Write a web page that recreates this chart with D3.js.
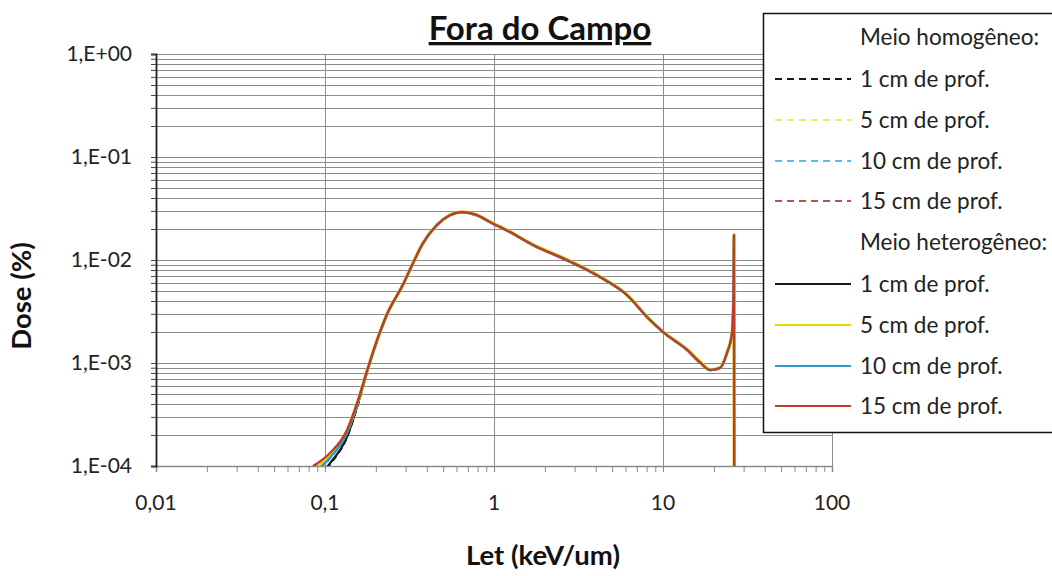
<!DOCTYPE html>
<html>
<head>
<meta charset="utf-8">
<script src="https://cdn.jsdelivr.net/npm/d3@7"></script>
<style>
  html, body { margin: 0; padding: 0; background: #fff; }
  svg { display: block; font-family: Lato, "Open Sans", sans-serif; }
</style>
</head>
<body>
<svg id="chart" width="1052" height="576"></svg>
<script>
// LET values (keV/um) shared by every curve
const letValues = [0.0849, 0.107, 0.135, 0.157, 0.177, 0.203, 0.233, 0.289, 0.332, 0.38,
  0.46, 0.55, 0.647, 0.792, 0.946, 1.244, 1.7, 2.7, 4.24, 6.12,
  8.04, 10.0, 13.9, 16.6, 19.0, 21.7, 23.9, 25.6, 26.1, 26.3, 26.4];

// Dose (%) — homogeneous medium
const homo1cm = [6.8e-5, 1.04e-4, 1.9e-4, 4.0e-4, 8.0e-4, 1.62e-3, 2.95e-3, 5.75e-3, 9.3e-3, 1.45e-2,
  2.18e-2, 2.72e-2, 2.91e-2, 2.72e-2, 2.33e-2, 1.86e-2, 1.39e-2, 9.95e-3, 6.8e-3, 4.55e-3,
  2.79e-3, 1.99e-3, 1.33e-3, 1.0e-3, 8.5e-4, 8.9e-4, 1.24e-3, 1.94e-3, 3.9e-3, 1.74e-2, 1.0e-5];
const homo5cm = [8.8e-5, 1.26e-4, 2.16e-4, 4.3e-4, 8.25e-4, 1.65e-3, 2.98e-3, 5.75e-3, 9.35e-3, 1.46e-2,
  2.19e-2, 2.73e-2, 2.92e-2, 2.73e-2, 2.34e-2, 1.87e-2, 1.4e-2, 1.0e-2, 6.84e-3, 4.57e-3,
  2.8e-3, 2.0e-3, 1.34e-3, 1.01e-3, 8.55e-4, 8.95e-4, 1.25e-3, 1.95e-3, 4.0e-3, 1.75e-2, 1.0e-5];
const homo10cm = [8.0e-5, 1.18e-4, 2.05e-4, 4.2e-4, 8.15e-4, 1.64e-3, 2.97e-3, 5.73e-3, 9.3e-3, 1.45e-2,
  2.18e-2, 2.73e-2, 2.91e-2, 2.72e-2, 2.33e-2, 1.87e-2, 1.4e-2, 9.95e-3, 6.8e-3, 4.55e-3,
  2.79e-3, 1.99e-3, 1.33e-3, 1.0e-3, 8.5e-4, 8.9e-4, 1.24e-3, 1.94e-3, 3.9e-3, 1.74e-2, 1.0e-5];
const homo15cm = [9.6e-5, 1.32e-4, 2.22e-4, 4.36e-4, 8.35e-4, 1.66e-3, 2.99e-3, 5.76e-3, 9.35e-3, 1.46e-2,
  2.19e-2, 2.74e-2, 2.92e-2, 2.73e-2, 2.35e-2, 1.88e-2, 1.41e-2, 1.01e-2, 6.9e-3, 4.6e-3,
  2.82e-3, 2.01e-3, 1.35e-3, 1.02e-3, 8.6e-4, 9.0e-4, 1.26e-3, 1.96e-3, 4.0e-3, 1.75e-2, 1.0e-5];

// Dose (%) — heterogeneous medium
const hetero1cm = [7.0e-5, 1.06e-4, 1.92e-4, 4.05e-4, 8.05e-4, 1.63e-3, 2.95e-3, 5.73e-3, 9.3e-3, 1.45e-2,
  2.18e-2, 2.72e-2, 2.9e-2, 2.71e-2, 2.32e-2, 1.86e-2, 1.39e-2, 9.9e-3, 6.8e-3, 4.55e-3,
  2.79e-3, 1.99e-3, 1.33e-3, 1.0e-3, 8.5e-4, 8.9e-4, 1.24e-3, 1.94e-3, 3.9e-3, 1.74e-2, 1.0e-5];
const hetero5cm = [9.0e-5, 1.28e-4, 2.18e-4, 4.32e-4, 8.3e-4, 1.66e-3, 2.99e-3, 5.76e-3, 9.38e-3, 1.46e-2,
  2.2e-2, 2.74e-2, 2.93e-2, 2.74e-2, 2.35e-2, 1.88e-2, 1.41e-2, 1.01e-2, 6.88e-3, 4.6e-3,
  2.82e-3, 2.01e-3, 1.35e-3, 1.02e-3, 8.6e-4, 9.0e-4, 1.26e-3, 1.96e-3, 4.0e-3, 1.75e-2, 1.0e-5];
const hetero10cm = [8.4e-5, 1.2e-4, 2.1e-4, 4.25e-4, 8.2e-4, 1.65e-3, 2.98e-3, 5.74e-3, 9.33e-3, 1.46e-2,
  2.19e-2, 2.73e-2, 2.92e-2, 2.73e-2, 2.34e-2, 1.87e-2, 1.4e-2, 1.0e-2, 6.84e-3, 4.57e-3,
  2.8e-3, 2.0e-3, 1.34e-3, 1.01e-3, 8.55e-4, 8.95e-4, 1.25e-3, 1.95e-3, 4.0e-3, 1.75e-2, 1.0e-5];
const hetero15cm = [1.0e-4, 1.34e-4, 2.24e-4, 4.38e-4, 8.35e-4, 1.66e-3, 2.99e-3, 5.75e-3, 9.35e-3, 1.46e-2,
  2.19e-2, 2.73e-2, 2.92e-2, 2.73e-2, 2.34e-2, 1.87e-2, 1.4e-2, 1.0e-2, 6.84e-3, 4.57e-3,
  2.8e-3, 2.0e-3, 1.34e-3, 1.01e-3, 8.55e-4, 8.95e-4, 1.25e-3, 1.95e-3, 4.0e-3, 1.75e-2, 1.0e-5];

// Axis tick labels
const xTickLabels = ["0,01", "0,1", "1", "10", "100"];
const yTickLabels = ["1,E-04", "1,E-03", "1,E-02", "1,E-01", "1,E+00"];

// Series shown in the legend, in draw order
const legendNames = ["1 cm de prof.", "5 cm de prof.", "10 cm de prof.", "15 cm de prof."];
const homoSeries = [homo1cm, homo5cm, homo10cm, homo15cm];
const heteroSeries = [hetero1cm, hetero5cm, hetero10cm, hetero15cm];
const homoColors = ["#1a1a1a", "#eeee55", "#5bbbe0", "#c0504d"];
const heteroColors = ["#1a1a1a", "#e8d800", "#2e9cc6", "#c23a2a"];
const heteroWidths = [2.2, 3.4, 2.4, 2.2];

const svg = d3.select("#chart");
const plotLeft = 156, plotRight = 832, plotTop = 54, plotBottom = 466;

const x = d3.scaleLog().domain([0.01, 100]).range([plotLeft, plotRight]);
const y = d3.scaleLog().domain([1e-4, 1]).range([plotBottom, plotTop]);

const xMajors = [0.01, 0.1, 1, 10, 100];
const yMajors = [1e-4, 1e-3, 1e-2, 1e-1, 1];

// Horizontal grid at every log tick, vertical grid at decades only
const grid = svg.append("g");
grid.selectAll("line.h").data(y.ticks()).join("line")
  .attr("x1", plotLeft).attr("x2", plotRight)
  .attr("y1", d => Math.round(y(d)) + 0.5).attr("y2", d => Math.round(y(d)) + 0.5)
  .attr("stroke", "#8c8c8c").attr("stroke-width", 1);
grid.selectAll("line.v").data(xMajors.slice(1)).join("line")
  .attr("x1", d => Math.round(x(d)) + 0.5).attr("x2", d => Math.round(x(d)) + 0.5)
  .attr("y1", plotTop).attr("y2", plotBottom)
  .attr("stroke", "#8c8c8c").attr("stroke-width", 1);

// Axes (ticks only; labels placed below)
const xAxis = svg.append("g").attr("transform", `translate(0,${plotBottom})`)
  .call(d3.axisBottom(x).tickValues(x.ticks()).tickSize(6).tickFormat(""));
xAxis.select(".domain").attr("stroke", "#8a8a8a").attr("stroke-width", 1.5);
xAxis.selectAll(".tick line").attr("stroke", "#8a8a8a");

const yAxis = svg.append("g").attr("transform", `translate(${plotLeft},0)`)
  .call(d3.axisLeft(y).tickValues(y.ticks()).tickSize(5).tickFormat(""));
yAxis.select(".domain").attr("stroke", "#222").attr("stroke-width", 1.8);
yAxis.selectAll(".tick line").attr("stroke", "#444");

// Tick labels
svg.append("g").selectAll("text").data(xMajors).join("text")
  .attr("x", d => x(d)).attr("y", 510)
  .attr("text-anchor", "middle")
  .attr("font-size", 21).attr("fill", "#222")
  .text((d, i) => xTickLabels[i]);
svg.append("g").selectAll("text").data(yMajors).join("text")
  .attr("x", 132).attr("y", d => y(d) + 7)
  .attr("text-anchor", "end")
  .attr("font-size", 21).attr("fill", "#222")
  .text((d, i) => yTickLabels[i]);

// Curves
svg.append("clipPath").attr("id", "plotClip")
  .append("rect").attr("x", plotLeft).attr("y", plotTop)
  .attr("width", plotRight - plotLeft).attr("height", plotBottom - plotTop);
const line = d3.line()
  .x((d, i) => x(letValues[i]))
  .y(d => y(d))
  .curve(d3.curveMonotoneX);
const curves = svg.append("g").attr("clip-path", "url(#plotClip)");
homoSeries.forEach((s, i) => {
  curves.append("path").attr("d", line(s))
    .attr("fill", "none").attr("stroke", homoColors[i])
    .attr("stroke-width", 2).attr("stroke-dasharray", "6,4");
});
heteroSeries.forEach((s, i) => {
  curves.append("path").attr("d", line(s))
    .attr("fill", "none").attr("stroke", heteroColors[i])
    .attr("stroke-width", heteroWidths[i]).attr("stroke-linejoin", "round");
});

// Titles
svg.append("text").attr("x", 540).attr("y", 40)
  .attr("text-anchor", "middle").attr("font-size", 33).attr("font-weight", "bold")
  .attr("fill", "#111").style("text-decoration", "underline")
  .text("Fora do Campo");
svg.append("text").attr("x", 543).attr("y", 565)
  .attr("text-anchor", "middle").attr("font-size", 27.5).attr("font-weight", "bold")
  .attr("fill", "#111").text("Let (keV/um)");
svg.append("text").attr("transform", "translate(31,296) rotate(-90)")
  .attr("text-anchor", "middle").attr("font-size", 27.5).attr("font-weight", "bold")
  .attr("fill", "#111").text("Dose (%)");

// Legend
const lg = svg.append("g");
lg.append("rect").attr("x", 763.5).attr("y", 13.5).attr("width", 300).attr("height", 419)
  .attr("fill", "#fff").attr("stroke", "#111").attr("stroke-width", 1.5);
const rowY = [37, 79, 120, 161, 201, 242, 284, 325, 366, 406];
const legendText = (yy, t) => lg.append("text").attr("x", 860).attr("y", yy + 7.5)
  .attr("font-size", 22.5).attr("fill", "#222").text(t);
legendText(rowY[0], "Meio homogêneo:");
homoSeries.forEach((s, i) => {
  const yy = rowY[1 + i];
  lg.append("line").attr("x1", 775).attr("x2", 851).attr("y1", yy).attr("y2", yy)
    .attr("stroke", homoColors[i]).attr("stroke-width", 2).attr("stroke-dasharray", "7,5");
  legendText(yy, legendNames[i]);
});
legendText(rowY[5], "Meio heterogêneo:");
heteroSeries.forEach((s, i) => {
  const yy = rowY[6 + i];
  lg.append("line").attr("x1", 775).attr("x2", 851).attr("y1", yy).attr("y2", yy)
    .attr("stroke", heteroColors[i]).attr("stroke-width", 2);
  legendText(yy, legendNames[i]);
});
</script>
</body>
</html>
